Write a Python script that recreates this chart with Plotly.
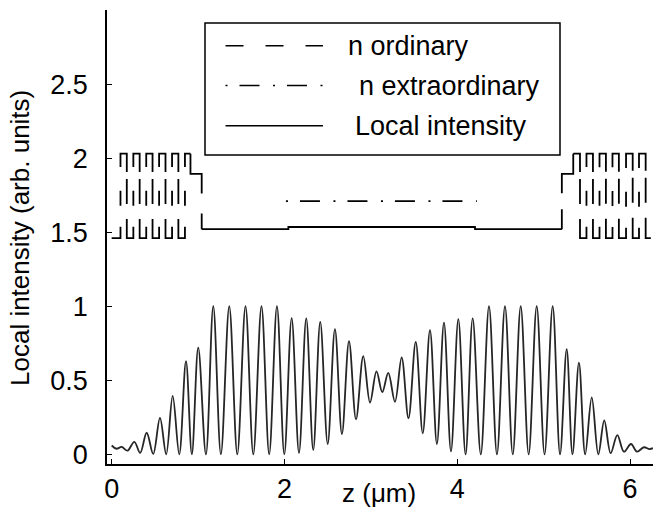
import plotly.graph_objects as go

# ---------------- data ----------------
# Local intensity: successive extrema of the standing-wave pattern
z_int = [0.000, 0.056, 0.116, 0.183, 0.262, 0.330, 0.405, 0.481, 0.559, 0.631,
         0.706, 0.782, 0.860, 0.928, 1.002, 1.091, 1.176, 1.264, 1.361, 1.454,
         1.549, 1.639, 1.734, 1.823, 1.913, 1.998, 2.083, 2.168, 2.252, 2.333,
         2.414, 2.500, 2.584, 2.665, 2.747, 2.828, 2.912, 2.990, 3.065, 3.132,
         3.201, 3.279, 3.356, 3.435, 3.519, 3.600, 3.684, 3.764, 3.846, 3.927,
         4.012, 4.096, 4.178, 4.272, 4.367, 4.459, 4.552, 4.642, 4.734, 4.826,
         4.919, 5.010, 5.104, 5.189, 5.266, 5.333, 5.408, 5.480, 5.556, 5.632,
         5.701, 5.775, 5.852, 5.929, 6.010, 6.080, 6.160, 6.225, 6.265]
i_int = [0.060, 0.038, 0.050, 0.025, 0.085, 0.010, 0.146, 0.003, 0.247, 0.000,
         0.395, 0.000, 0.630, 0.000, 0.720, 0.000, 1.000, 0.000, 1.000, 0.000,
         1.000, 0.000, 1.000, 0.000, 1.000, 0.000, 0.920, 0.010, 0.918, 0.030,
         0.895, 0.070, 0.845, 0.137, 0.765, 0.236, 0.663, 0.350, 0.560, 0.420,
         0.550, 0.355, 0.655, 0.243, 0.760, 0.142, 0.839, 0.070, 0.890, 0.020,
         0.913, 0.000, 0.918, 0.000, 1.000, 0.000, 1.000, 0.000, 1.000, 0.000,
         1.000, 0.000, 1.000, 0.000, 0.710, 0.000, 0.620, 0.000, 0.385, 0.000,
         0.230, 0.008, 0.130, 0.018, 0.070, 0.018, 0.048, 0.036, 0.042]

# Refractive-index profile (step boundaries z, index value on each step)
stackL_z = [0.0, 0.102, 0.175, 0.251, 0.324, 0.400, 0.473, 0.549, 0.623, 0.699, 0.772, 0.848, 0.912]
stackL_n = [1.46, 2.03, 1.46, 2.03, 1.46, 2.03, 1.46, 2.03, 1.46, 2.03, 1.46, 2.03, 2.03]
bufL_z = [0.912, 0.912, 1.042]
bufL_n = [2.03, 1.893, 1.52]
defect_z = [1.042, 2.045, 4.205, 5.21]
defect_n = [1.52, 1.535, 1.52, 1.52]
bufR_z = [5.21, 5.21, 5.342]
bufR_n = [1.52, 1.893, 2.03]
stackR_z = [5.342, 5.42, 5.495, 5.57, 5.646, 5.72, 5.796, 5.87, 5.953, 6.03, 6.103, 6.18, 6.24]
stackR_n = [2.03, 1.46, 2.03, 1.46, 2.03, 1.46, 2.03, 1.46, 2.03, 1.46, 2.03, 1.46, 1.46]
ne_z = [2.017, 4.226]
ne_n = [1.71, 1.71]

legend_labels = ["n ordinary", "n extraordinary", "Local intensity"]
y_ticks = [0, 0.5, 1, 1.5, 2, 2.5]
y_ticktext = ["0", "0.5", "1", "1.5", "2", "2.5"]
x_ticks = [0, 2, 4, 6]

# ---------------- layout geometry ----------------
W, H = 653, 513
ML, MR, MT, MB = 107, 0, 10, 49
X_RANGE = [-0.054, 6.265]
Y_RANGE = [-0.065, 3.0]
PW, PH = W - ML - MR, H - MT - MB
KX = PW / (X_RANGE[1] - X_RANGE[0])   # px per z unit
KY = PH / (Y_RANGE[1] - Y_RANGE[0])   # px per index unit
FONT = "Liberation Sans, Arial, Helvetica, sans-serif"


def px(xp):
    return (xp - ML) / PW


def py(yp):
    return (H - MB - yp) / PH


def hv_length(z, n, upto):
    """pixel length of an hv step path from its start up to vertex index `upto`"""
    L = 0.0
    for i in range(upto):
        L += abs(z[i + 1] - z[i]) * KX + abs(n[i + 1] - n[i]) * KY
    return L


def dash_string(pattern, offset):
    P = sum(pattern)
    offset %= P
    acc = 0.0
    i = 0
    for i, L in enumerate(pattern):
        if acc + L > offset:
            break
        acc += L
    L = pattern[i]
    rem = acc + L - offset
    rot = [rem] + pattern[i + 1:] + pattern[:i] + [L - rem]
    if i % 2 == 0:
        rot = rot + [0.0]
    else:
        rot = [0.0] + rot
    return ",".join(f"{v:.2f}px" for v in rot)


# dash pattern of the layered stacks (one pattern per optical period)
V = (2.03 - 1.46) * KY
P_STACK = 2 * V + 0.149 * KX
base = [38, 7, 25, 15, 37, 21, 15]
stack_pattern = base + [P_STACK - sum(base)]
CORNER_PHASE = 13.3
offL = CORNER_PHASE - hv_length(stackL_z, stackL_n, 1)
offR = CORNER_PHASE - hv_length(stackR_z, stackR_n, 2)

fig = go.Figure()

fig.add_trace(go.Scatter(x=z_int, y=i_int, mode="lines",
                         line=dict(color="#262626", width=1.8, shape="spline", smoothing=1.0),
                         name=legend_labels[2], showlegend=False, hoverinfo="skip"))

fig.add_trace(go.Scatter(x=stackL_z, y=stackL_n, mode="lines",
                         line=dict(color="black", width=1.8, shape="hv", dash=dash_string(stack_pattern, offL)),
                         showlegend=False, hoverinfo="skip"))
fig.add_trace(go.Scatter(x=stackR_z, y=stackR_n, mode="lines",
                         line=dict(color="black", width=1.8, shape="hv", dash=dash_string(stack_pattern, offR)),
                         showlegend=False, hoverinfo="skip"))
fig.add_trace(go.Scatter(x=bufL_z, y=bufL_n, mode="lines",
                         line=dict(color="black", width=1.8, shape="hv", dash="51px,20px,60px,1px"),
                         showlegend=False, hoverinfo="skip"))
fig.add_trace(go.Scatter(x=bufR_z, y=bufR_n, mode="lines",
                         line=dict(color="black", width=1.8, shape="hv", dash="20px,16px,90px,1px"),
                         showlegend=False, hoverinfo="skip"))
fig.add_trace(go.Scatter(x=defect_z, y=defect_n, mode="lines",
                         line=dict(color="black", width=1.8, shape="hv"),
                         name=legend_labels[0], showlegend=False, hoverinfo="skip"))
fig.add_trace(go.Scatter(x=ne_z, y=ne_n, mode="lines",
                         line=dict(color="black", width=1.8, dash="2px,12px,20px,13.5px"),
                         name=legend_labels[1], showlegend=False, hoverinfo="skip"))

# ---------------- hand-drawn legend box ----------------
shapes = [dict(type="rect", xref="paper", yref="paper",
               x0=px(205), x1=px(560), y0=py(155), y1=py(23),
               line=dict(color="black", width=1.5), fillcolor="white", layer="above")]
row_y = [45.7, 85.5, 125.7]
dashes = ["18px,22px", "2px,12px,20px,13.5px", "solid"]
for ry, d in zip(row_y, dashes):
    shapes.append(dict(type="line", xref="paper", yref="paper",
                       x0=px(225.5), x1=px(323), y0=py(ry), y1=py(ry),
                       line=dict(color="black", width=1.5, dash=d), layer="above"))
annotations = []
text_x = [346, 356.5, 352.5]
for t, tx, ry in zip(legend_labels, text_x, row_y):
    annotations.append(dict(text=t, xref="paper", yref="paper", x=px(tx), y=py(ry),
                            xanchor="left", yanchor="middle", showarrow=False,
                            font=dict(family=FONT, size=27, color="black")))
annotations.append(dict(text="z (μm)", xref="paper", yref="paper", x=px(378.5), y=py(493),
                        xanchor="center", yanchor="middle", showarrow=False,
                        font=dict(family=FONT, size=26, color="black")))
annotations.append(dict(text="Local intensity (arb. units)", xref="paper", yref="paper",
                        x=px(20), y=py(238), xanchor="center", yanchor="middle",
                        textangle=-90, showarrow=False,
                        font=dict(family=FONT, size=26, color="black")))

fig.update_layout(
    width=W, height=H,
    margin=dict(l=ML, r=MR, t=MT, b=MB, pad=0, autoexpand=False),
    paper_bgcolor="white", plot_bgcolor="white",
    shapes=shapes, annotations=annotations, showlegend=False,
    font=dict(family=FONT, size=27, color="black"),
    xaxis=dict(range=X_RANGE, tickvals=x_ticks, ticktext=[str(v) for v in x_ticks],
               automargin=False,
               showgrid=False, zeroline=False, showline=True, linecolor="black", linewidth=1.5,
               ticks="inside", ticklen=5, tickwidth=1, tickcolor="black",
               tickfont=dict(family=FONT, size=27, color="black"), ticklabelstandoff=0),
    yaxis=dict(range=Y_RANGE, tickvals=y_ticks, ticktext=y_ticktext,
               automargin=False,
               showgrid=False, zeroline=False, showline=True, linecolor="black", linewidth=1.5,
               ticks="inside", ticklen=5, tickwidth=1, tickcolor="black",
               tickfont=dict(family=FONT, size=27, color="black"), ticklabelstandoff=12),
)

fig.write_html("out.html", config={"displayModeBar": False},
               post_script="document.body.style.margin='0';document.body.style.overflow='hidden';")
